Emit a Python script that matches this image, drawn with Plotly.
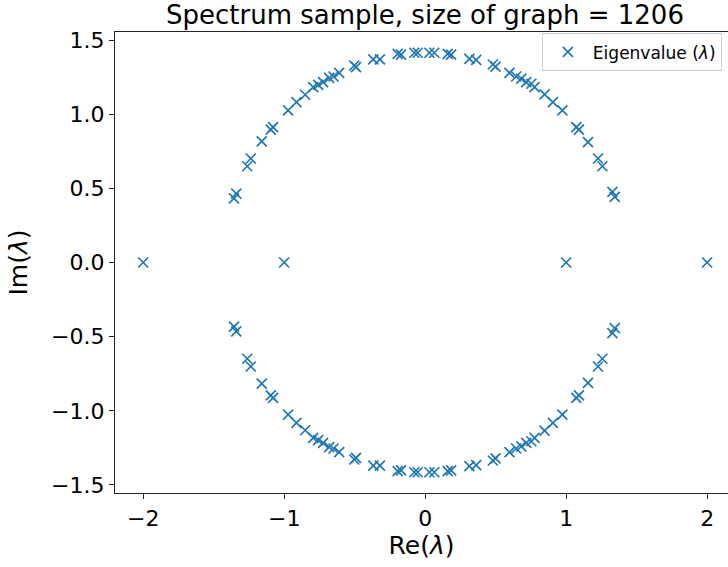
import plotly.graph_objects as go

re_upper = [-1.356, -1.340, -1.262, -1.237, -1.159, -1.095, -1.079, -0.972, -0.913, -0.851,
            -0.794, -0.759, -0.724, -0.681, -0.650, -0.610, -0.503, -0.491, -0.368, -0.321,
            -0.195, -0.171, -0.077, -0.053, 0.030, 0.065, 0.160, 0.184, 0.314, 0.362,
            0.480, 0.499, 0.598, 0.646, 0.682, 0.717, 0.753, 0.776, 0.847, 0.906,
            0.973, 1.072, 1.091, 1.155, 1.226, 1.257, 1.328, 1.345]
im_upper = [0.432, 0.465, 0.649, 0.701, 0.817, 0.896, 0.913, 1.026, 1.081, 1.131,
            1.182, 1.198, 1.216, 1.245, 1.254, 1.279, 1.328, 1.317, 1.369, 1.369,
            1.407, 1.402, 1.414, 1.414, 1.414, 1.414, 1.407, 1.402, 1.373, 1.366,
            1.335, 1.321, 1.279, 1.254, 1.239, 1.216, 1.205, 1.182, 1.133, 1.081,
            1.026, 0.913, 0.896, 0.812, 0.701, 0.649, 0.476, 0.443]
re_lower = [-1.356, -1.340, -1.262, -1.237, -1.159, -1.095, -1.079, -0.972, -0.913, -0.851,
            -0.794, -0.759, -0.724, -0.681, -0.650, -0.610, -0.503, -0.491, -0.368, -0.321,
            -0.195, -0.171, -0.077, -0.053, 0.030, 0.065, 0.160, 0.184, 0.314, 0.362,
            0.480, 0.499, 0.598, 0.646, 0.682, 0.717, 0.753, 0.776, 0.847, 0.906,
            0.973, 1.072, 1.091, 1.155, 1.226, 1.257, 1.328, 1.345]
im_lower = [-0.432, -0.465, -0.649, -0.701, -0.817, -0.896, -0.913, -1.026, -1.081, -1.131,
            -1.182, -1.198, -1.216, -1.245, -1.254, -1.279, -1.328, -1.317, -1.369, -1.369,
            -1.407, -1.402, -1.414, -1.414, -1.414, -1.414, -1.407, -1.402, -1.373, -1.366,
            -1.335, -1.321, -1.279, -1.254, -1.239, -1.216, -1.205, -1.182, -1.133, -1.081,
            -1.026, -0.913, -0.896, -0.812, -0.701, -0.649, -0.476, -0.443]
re_real = [-2.0, -1.0, 1.0, 2.0]
im_real = [0.0, 0.0, 0.0, 0.0]

x_ticks = [-2, -1, 0, 1, 2]
y_ticks = [-1.5, -1.0, -0.5, 0.0, 0.5, 1.0, 1.5]

re_all = re_upper + re_lower + re_real
im_all = im_upper + im_lower + im_real

FONT = "DejaVu Sans"
BLUE = "#1f77b4"

fig = go.Figure()
fig.add_trace(go.Scatter(
    x=re_all, y=im_all, mode="markers", name="Eigenvalue (<i>λ</i>)",
    marker=dict(symbol="x-thin", size=10, color=BLUE, line=dict(color=BLUE, width=1.7)),
    showlegend=True,
))

fig.update_layout(
    width=728, height=567,
    margin=dict(l=115, r=0, t=32, b=74, autoexpand=False),
    paper_bgcolor="white", plot_bgcolor="white",
    font=dict(family=FONT, color="black"),
    title=dict(text="Spectrum sample, size of graph = 1206",
               font=dict(family=FONT, size=26, color="black"),
               x=(425 - 115) / 613, xref="paper", xanchor="center",
               y=1 - 15 / 567, yref="container", yanchor="middle"),
    showlegend=True,
    legend=dict(x=0.99, y=0.997, xanchor="right", yanchor="top",
                bgcolor="rgba(255,255,255,0.8)", bordercolor="#cccccc", borderwidth=1,
                itemwidth=40, tracegroupgap=0,
                font=dict(family=FONT, size=17, color="black")),
)

fig.update_xaxes(
    range=[-2.2, 2.148], tickvals=x_ticks, ticktext=[("−" + str(abs(v))) if v < 0 else str(v) for v in x_ticks],
    showgrid=False, zeroline=False, automargin=False,
    showline=True, linecolor="#222", linewidth=1.2, mirror=True,
    ticks="outside", ticklen=5, tickwidth=1.2, tickcolor="#222",
    tickfont=dict(family=FONT, size=22, color="black"),
    title=dict(text="Re(<i>λ</i>)", font=dict(family=FONT, size=25, color="black"), standoff=6),
)
fig.update_yaxes(
    range=[-1.554, 1.554], tickvals=y_ticks, tickformat=".1f",
    showgrid=False, zeroline=False, automargin=False,
    showline=True, linecolor="#222", linewidth=1.2, mirror=False,
    ticks="outside", ticklen=5, tickwidth=1.2, tickcolor="#222",
    tickfont=dict(family=FONT, size=22, color="black"),
    title=dict(text="Im(<i>λ</i>)", font=dict(family=FONT, size=25, color="black"), standoff=16),
)

fig.write_html("out.html", config={"displayModeBar": False},
               post_script="document.body.style.margin='0px';document.body.style.overflow='hidden';")
